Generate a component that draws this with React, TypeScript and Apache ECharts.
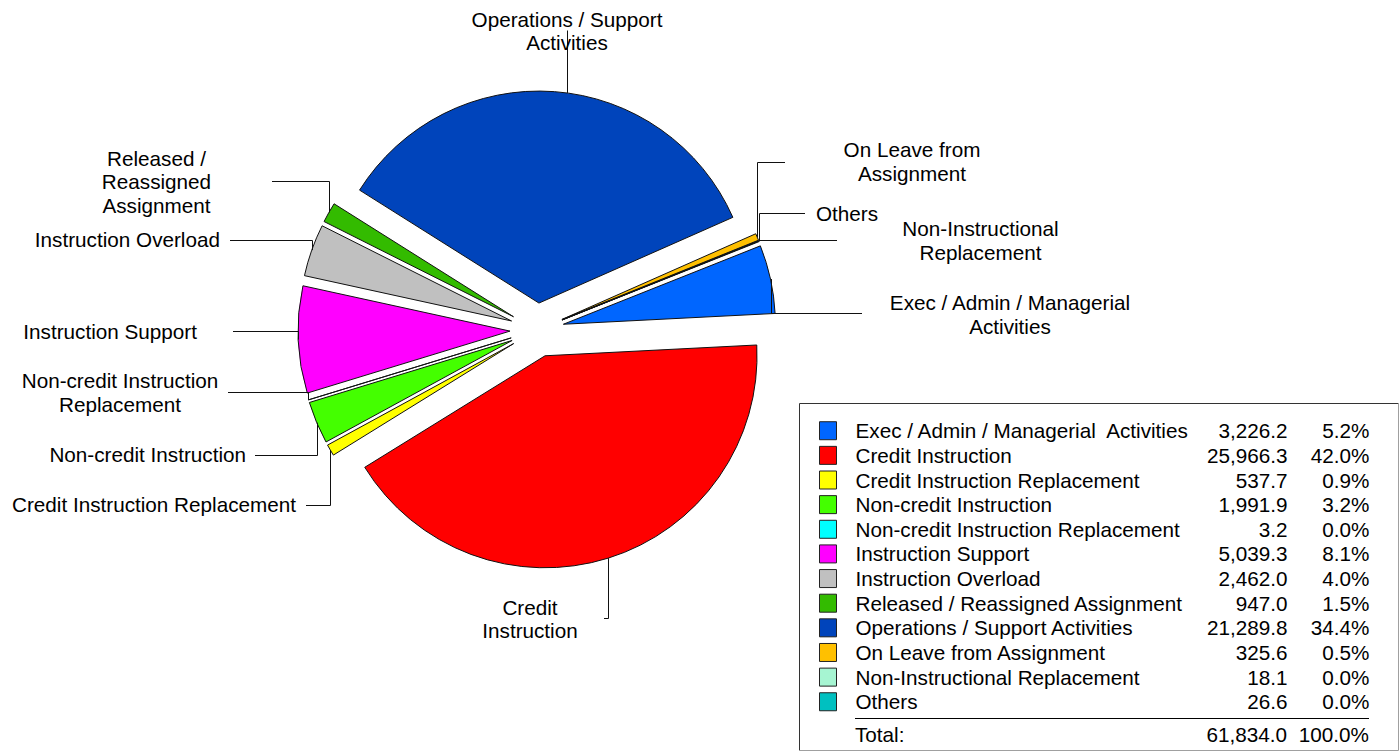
import React, { useEffect, useRef } from "react";
import * as echarts from "echarts";

const categories = [
  "Exec / Admin / Managerial  Activities",
  "Credit Instruction",
  "Credit Instruction Replacement",
  "Non-credit Instruction",
  "Non-credit Instruction Replacement",
  "Instruction Support",
  "Instruction Overload",
  "Released / Reassigned Assignment",
  "Operations / Support Activities",
  "On Leave from Assignment",
  "Non-Instructional Replacement",
  "Others",
];
const values = [3226.2, 25966.3, 537.7, 1991.9, 3.2, 5039.3, 2462.0, 947.0, 21289.8, 325.6, 18.1, 26.6];
const percents = ["5.2%", "42.0%", "0.9%", "3.2%", "0.0%", "8.1%", "4.0%", "1.5%", "34.4%", "0.5%", "0.0%", "0.0%"];
const sliceLabels = [
  "Exec / Admin / Managerial\nActivities",
  "Credit\nInstruction",
  "Credit Instruction Replacement",
  "Non-credit Instruction",
  "Non-credit Instruction\nReplacement",
  "Instruction Support",
  "Instruction Overload",
  "Released /\nReassigned\nAssignment",
  "Operations / Support\nActivities",
  "On Leave from\nAssignment",
  "Non-Instructional\nReplacement",
  "Others",
];
const colors = [
  "#0066FF", "#FF0000", "#FFFF00", "#44FF00", "#00FFFF", "#FF00FF",
  "#C0C0C0", "#33BB00", "#0044BB", "#FFC000", "#A6F5D2", "#00C0C0",
];
const totalLabel = "Total:";
const totalValue = 61834.0;
const totalPercent = "100.0%";

// layout constants
const CX = 537;
const CY = 330;
const RADIUS = 212;
const OFFSET = 27;
const START_ANGLE = 21.7;
const FONT = '"Liberation Sans", Arial, Helvetica, sans-serif';
const FS = 20.7;

// label placement: text anchor, alignment, leader bend y, end x, optional fixed vertical leader x
const labelPlacement: any[] = [
  { x: 1010, y: 314.5, align: "center", bendY: 313, endX: 862 },
  { x: 530, y: 618.7, align: "center", bendY: 618, endX: 604 },
  { x: 296, y: 504.5, align: "right", bendY: 505, endX: 306 },
  { x: 246, y: 454.5, align: "right", bendY: 455, endX: 255 },
  { x: 120, y: 392.3, align: "center", bendY: 392, endX: 228 },
  { x: 197, y: 331.3, align: "right", bendY: 331, endX: 233 },
  { x: 220, y: 239.5, align: "right", bendY: 240, endX: 230 },
  { x: 156.5, y: 181.6, align: "center", bendY: 181, endX: 272 },
  { x: 567, y: 31, align: "center", bendY: 30, endX: null, lineX: 567 },
  { x: 912, y: 161.3, align: "center", bendY: 162, endX: 785 },
  { x: 980.5, y: 240.4, align: "center", bendY: 240, endX: 837 },
  { x: 816, y: 213.5, align: "left", bendY: 213, endX: 805 },
];

const fmt = (v: number) =>
  v.toLocaleString("en-US", { minimumFractionDigits: 1, maximumFractionDigits: 1 });

export default function App() {
  const ref = useRef<HTMLDivElement>(null);
  useEffect(() => {
    document.body.style.margin = "0";
    if (!ref.current) return;
    const chart = echarts.init(ref.current, null, { renderer: "svg" });

    const sum = values.reduce((a, b) => a + b, 0);
    let acc = 0;
    const anchors = values.map((v, i) => {
      const a0 = START_ANGLE - (acc / sum) * 360;
      acc += v;
      const a1 = START_ANGLE - (acc / sum) * 360;
      const mid = (((a0 + a1) / 2) * Math.PI) / 180;
      const p = labelPlacement[i];
      if (p.lineX != null) {
        // point on the exploded slice's arc directly below the label
        const px = CX + OFFSET * Math.cos(mid);
        const py = CY - OFFSET * Math.sin(mid);
        const dx = p.lineX - px;
        return [p.lineX, py - Math.sqrt(RADIUS * RADIUS - dx * dx)];
      }
      const r = RADIUS + OFFSET;
      return [CX + r * Math.cos(mid), CY - r * Math.sin(mid)];
    });

    const labelEls: any[] = [];
    sliceLabels.forEach((text, i) => {
      const p = labelPlacement[i];
      const [ax, ay] = anchors[i];
      const lx = Math.round(ax) + 0.5;
      const by = p.bendY + 0.5;
      const pts: number[][] = [[lx, ay], [lx, by]];
      if (p.endX != null) pts.push([p.endX, by]);
      labelEls.push({
        type: "polyline",
        shape: { points: pts },
        style: { stroke: "#111", lineWidth: 1, fill: null },
        z: 10,
      });
      labelEls.push({
        type: "text",
        style: {
          text,
          x: p.x,
          y: p.y,
          align: p.align,
          verticalAlign: "middle",
          textAlign: p.align,
          textVerticalAlign: "middle",
          font: `${FS}px ${FONT}`,
          lineHeight: 23.4,
          fill: "#000",
        },
        z: 11,
      });
    });

    const boxEls = [
      { type: "line", shape: { x1: 799.5, y1: 403.5, x2: 1398.5, y2: 403.5 }, style: { stroke: "#333", lineWidth: 1 } },
      { type: "line", shape: { x1: 799.5, y1: 403.5, x2: 799.5, y2: 750.5 }, style: { stroke: "#333", lineWidth: 1 } },
      { type: "line", shape: { x1: 799.5, y1: 750.5, x2: 1398.5, y2: 750.5 }, style: { stroke: "#a0a0a0", lineWidth: 1 } },
      { type: "line", shape: { x1: 1398.5, y1: 403.5, x2: 1398.5, y2: 750.5 }, style: { stroke: "#a0a0a0", lineWidth: 1 } },
      { type: "line", shape: { x1: 855, y1: 718.5, x2: 1369, y2: 718.5 }, style: { stroke: "#000", lineWidth: 1 } },
      {
        type: "text",
        style: { text: totalLabel, x: 855, y: 734.5, align: "left", verticalAlign: "middle", font: `${FS}px ${FONT}`, fill: "#000" },
      },
      {
        type: "text",
        style: { text: fmt(totalValue), x: 1287, y: 734.5, align: "right", verticalAlign: "middle", font: `${FS}px ${FONT}`, fill: "#000" },
      },
      {
        type: "text",
        style: { text: totalPercent, x: 1369, y: 734.5, align: "right", verticalAlign: "middle", font: `${FS}px ${FONT}`, fill: "#000" },
      },
    ];

    const rowH = 24.64;
    chart.setOption({
      animation: false,
      backgroundColor: "#ffffff",
      legend: {
        orient: "vertical",
        left: 819,
        top: 418.4,
        padding: 0,
        itemGap: 0,
        itemWidth: 17,
        itemHeight: 18,
        icon: "rect",
        selectedMode: false,
        data: categories,
        itemStyle: { borderColor: "#222", borderWidth: 1 },
        textStyle: {
          fontFamily: FONT,
          fontSize: FS,
          lineHeight: rowH,
          color: "#000",
          rich: {
            s: { width: 14, fontSize: FS, lineHeight: rowH, fontFamily: FONT },
            n: { width: 336, fontSize: FS, lineHeight: rowH, fontFamily: FONT, color: "#000" },
            v: { width: 96, align: "right", fontSize: FS, lineHeight: rowH, fontFamily: FONT, color: "#000" },
            p: { width: 82, align: "right", fontSize: FS, lineHeight: rowH, fontFamily: FONT, color: "#000" },
          },
        },
        formatter: (name: string) => {
          const i = categories.indexOf(name);
          return `{s| }{n|${name}}{v|${fmt(values[i])}}{p|${percents[i]}}`;
        },
      },
      series: [
        {
          type: "pie",
          center: [CX, CY],
          radius: RADIUS,
          startAngle: START_ANGLE,
          clockwise: true,
          selectedMode: "multiple",
          selectedOffset: OFFSET,
          avoidLabelOverlap: false,
          label: { show: false },
          labelLine: { show: false },
          emphasis: { disabled: true, scale: false },
          itemStyle: { borderColor: "#111", borderWidth: 1 },
          data: categories.map((name, i) => ({
            name,
            value: values[i],
            selected: true,
            itemStyle: { color: colors[i] },
            select: { itemStyle: { color: colors[i], borderColor: "#111", borderWidth: 1 } },
          })),
        },
      ],
      graphic: { elements: [...boxEls, ...labelEls] },
    });
    return () => chart.dispose();
  }, []);
  return <div ref={ref} style={{ width: 1400, height: 755 }} />;
}
